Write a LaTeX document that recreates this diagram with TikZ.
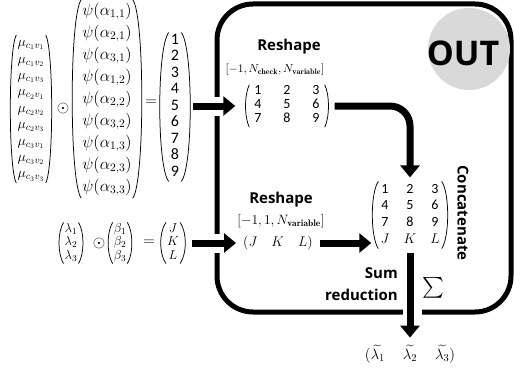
\RequirePackage{fix-cm}
\documentclass[tikz,border=0pt]{standalone}
\usepackage{amsmath}
\usepackage{array}
\usepackage{fontspec}
\newfontfamily\lblfont{Open Sans}
\newfontfamily\digfont{Carlito}
\usetikzlibrary{arrows.meta}
\tikzset{
  bigarrow/.style={line width=7pt,-{Triangle[length=12pt,width=19pt]}},
  gapline/.style={white,line width=19pt},
  lbl/.style={inner sep=0pt,font=\lblfont\bfseries\fontsize{15}{18}\selectfont},
  mth/.style={inner xsep=1pt,inner ysep=0pt},
  parenline/.style={line width=0.75pt,black},
}
\newcommand\putparens[3]{%
  \draw[parenline] (#1.north west) .. controls +(-#2,-#3) and +(-#2,#3) .. (#1.south west);
  \draw[parenline] (#1.north east) .. controls +(#2,-#3) and +(#2,#3) .. (#1.south east);}
\begin{document}
\begin{tikzpicture}[x=1pt,y=-1pt]
\useasboundingbox (0,0) rectangle (514,369);
% left equations
\node[mth,font=\fontsize{14}{16.4}\selectfont] (mu) at (31,109)
 {$\begin{array}{@{}c@{}}\mu_{c_1v_1}\\ \mu_{c_1v_2}\\ \mu_{c_1v_3}\\ \mu_{c_2v_1}\\ \mu_{c_2v_2}\\ \mu_{c_2v_3}\\ \mu_{c_3v_1}\\ \mu_{c_3v_2}\\ \mu_{c_3v_3}\end{array}$};
\putparens{mu}{8pt}{14pt}
\node[mth,font=\fontsize{16}{16}\selectfont] (od1) at (63,108) {$\odot$};
\node[mth,font=\fontsize{16.5}{22}\selectfont] (psi) at (107,99)
 {$\begin{array}{@{}c@{}}\psi(\alpha_{1,1})\\ \psi(\alpha_{2,1})\\ \psi(\alpha_{3,1})\\ \psi(\alpha_{1,2})\\ \psi(\alpha_{2,2})\\ \psi(\alpha_{3,2})\\ \psi(\alpha_{1,3})\\ \psi(\alpha_{2,3})\\ \psi(\alpha_{3,3})\end{array}$};
\putparens{psi}{12pt}{16pt}
\node[mth,font=\fontsize{15}{15}\selectfont] (eq1) at (151,103) {$=$};
\node[mth,inner xsep=2pt,font=\digfont\fontsize{16}{16.5}\selectfont] (v19) at (175,107)
 {\begin{tabular}{@{}c@{}}1\\2\\3\\4\\5\\6\\7\\8\\9\end{tabular}};
\putparens{v19}{12pt}{14pt}
\node[mth,font=\fontsize{13}{13.6}\selectfont] (lam) at (71,243)
 {$\begin{array}{@{}c@{}}\lambda_1\\ \lambda_2\\ \lambda_3\end{array}$};
\putparens{lam}{6pt}{10pt}
\node[mth,font=\fontsize{16}{16}\selectfont] (od2) at (99,243) {$\odot$};
\node[mth,font=\fontsize{13}{13.6}\selectfont] (bet) at (120,243)
 {$\begin{array}{@{}c@{}}\beta_1\\ \beta_2\\ \beta_3\end{array}$};
\putparens{bet}{6pt}{10pt}
\node[mth,font=\fontsize{15}{15}\selectfont] (eq2) at (149,243) {$=$};
\node[mth,font=\fontsize{13}{13.6}\selectfont] (jkl) at (173,243)
 {$\begin{array}{@{}c@{}}J\\ K\\ L\end{array}$};
\putparens{jkl}{7pt}{10pt}
% box and circle
\node[draw,line width=5pt,rounded corners=36pt,minimum width=294pt,minimum height=308pt,inner sep=0pt] (box) at (364,158) {};
\node[circle,fill=black!15,minimum size=82pt,inner sep=0pt] (outc) at (469,49) {};
\node[inner sep=0pt,font=\lblfont\bfseries\fontsize{34}{34}\selectfont] (outt) at (463,53) {OUT};
% right contents
\node[lbl] (rs1) at (289,47) {Reshape};
\node[mth,font=\fontsize{11.5}{12}\selectfont] (sh1) at (275,70) {$[-1, N_{\mathbf{check}}, N_{\mathbf{variable}}]$};
\node[mth,inner xsep=0pt,font=\digfont\fontsize{14}{14}\selectfont] (m33) at (287,106)
 {\begin{tabular}{@{}*{3}{w{c}{17pt}}@{}}1&2&3\\4&5&6\\7&8&9\end{tabular}};
\putparens{m33}{5pt}{10pt}
\node[lbl] (rs2) at (281,200) {Reshape};
\node[mth,font=\fontsize{13.5}{14}\selectfont] (sh2) at (281,221) {$[-1,1, N_{\mathbf{variable}}]$};
\node[mth,font=\fontsize{14}{14}\selectfont] (jkl2) at (278,243)
 {$(J\hspace{14pt}K\hspace{14pt}L)$};
\node[mth,inner xsep=0pt,font=\digfont\fontsize{14}{16.7}\selectfont] (big) at (410,215)
 {\begin{tabular}{@{}*{3}{w{c}{13pt}}@{}}1&2&3\\4&5&6\\7&8&9\\$J$&$K$&$L$\end{tabular}};
\putparens{big}{8pt}{12pt}
\node[lbl,rotate=-90] (cat) at (463,213) {Concatenate};
% gaps in the box border
\draw[gapline] ([xshift=12pt]v19.east |- m33.west) -- ([xshift=-16pt]m33.west);
\draw[gapline] ([xshift=12pt]jkl.east) -- ([xshift=-14pt]jkl2.west);
\draw[gapline] (412,254) -- (412,330);
% arrows
\draw[bigarrow] ([xshift=12pt]v19.east |- m33.west) -- ([xshift=-14pt]m33.west);
\draw[bigarrow] ([xshift=12pt]jkl.east) -- ([xshift=-6pt]jkl2.west);
\draw[bigarrow] ([xshift=6pt]jkl2.east) -- ([xshift=-7pt]big.west |- jkl2.east);
\draw[bigarrow,rounded corners=20pt] ([xshift=10pt]m33.east) -| ([yshift=4pt]big.north);
\node[mth,font=\fontsize{15}{15}\selectfont] (res) at (410,354)
 {$(\widetilde{\lambda_1}\hspace{18pt}\widetilde{\lambda_2}\hspace{18pt}\widetilde{\lambda_3})$};
\draw[bigarrow] ([yshift=-4pt]big.south) -- ([yshift=7pt]res.north);
% sum labels
\node[lbl,anchor=east] (sum) at (398,273) {Sum};
\node[lbl,anchor=east] (red) at (398,295) {reduction};
\node[mth,font=\fontsize{20}{20}\selectfont] (sig) at (433,288) {$\textstyle\sum$};
\end{tikzpicture}
\end{document}
